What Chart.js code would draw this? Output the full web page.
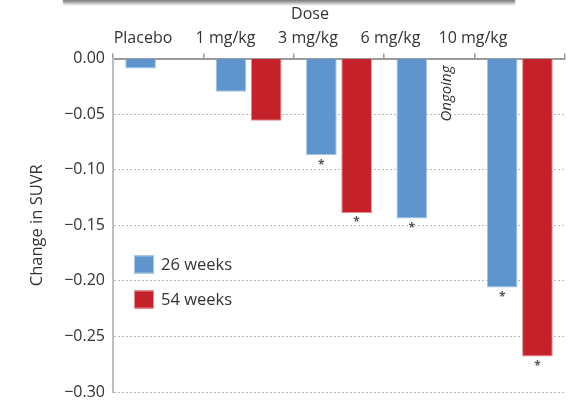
<!DOCTYPE html>
<html>
<head>
<meta charset="utf-8">
<script src="https://cdn.jsdelivr.net/npm/chart.js@4/dist/chart.umd.min.js"></script>
<style>
  html, body { margin: 0; padding: 0; background: #fff; }
  #wrap { position: relative; width: 572px; height: 405px; overflow: hidden; }
  #topbar { position: absolute; left: 63px; top: 0; width: 452px; height: 3px;
    background: linear-gradient(#7a7a7a, #b8b8b8); box-shadow: 0 1px 3px rgba(0,0,0,0.35); }
  canvas { position: absolute; left: 0; top: 0; }
</style>
</head>
<body>
<div id="wrap">
  <canvas id="c" width="572" height="405"></canvas>
  <div id="topbar"></div>
</div>
<script>
// ---- data ----
const doses = ['Placebo', '1 mg/kg', '3 mg/kg', '6 mg/kg', '10 mg/kg'];
const weeks26 = [-0.009, -0.030, -0.087, -0.144, -0.206];
const weeks54 = [null, -0.056, -0.139, null, -0.268];
const sig26 = [false, false, true, true, true];
const sig54 = [false, false, true, false, true];
const yTicks = [0, -0.05, -0.10, -0.15, -0.20, -0.25, -0.30];
const seriesLabels = ['26 weeks', '54 weeks'];
const ongoingIndex = 3;

const FONT = '"Open Sans", "Noto Sans", sans-serif';
const TXT = '#333333';
const BLUE = '#5f95cd', BLUE_B = '#a8c6e6';
const RED = '#c5212a', RED_B = '#e48c90';

// label axis range (labels in the original sit slightly left of the bar groups)
const LABEL_MIN = -0.3636, LABEL_MAX = 5.115;

const overlay = {
  id: 'overlay',
  afterDatasetsDraw(chart) {
    const ctx = chart.ctx;
    const ca = chart.chartArea;
    const x2 = chart.scales.x2;
    ctx.save();
    ctx.fillStyle = TXT;
    ctx.font = '16px ' + FONT;
    ctx.textAlign = 'center';
    ctx.textBaseline = 'middle';
    ctx.fillText('Dose', x2.getPixelForValue(2) + 2, 14);

    ctx.font = 'bold 12px ' + FONT;
    ctx.fillStyle = '#555';
    const sigs = [sig26, sig54];
    chart.data.datasets.forEach((ds, di) => {
      const meta = chart.getDatasetMeta(di);
      meta.data.forEach((el, i) => {
        if (ds.data[i] == null || !sigs[di][i]) return;
        ctx.fillText('*', el.x, el.y + 10);
      });
    });

    const m0 = chart.getDatasetMeta(0), m1 = chart.getDatasetMeta(1);
    const shift = m1.data[2].x - m0.data[2].x;
    const ox = m0.data[ongoingIndex].x + shift;
    ctx.translate(ox, ca.top + 35);
    ctx.rotate(-Math.PI / 2);
    ctx.font = 'italic 15px ' + FONT;
    ctx.fillStyle = TXT;
    ctx.fillText('Ongoing', 0, 0);
    ctx.restore();

    ctx.save();
    ctx.font = '16.5px ' + FONT;
    ctx.textAlign = 'left';
    ctx.textBaseline = 'middle';
    chart.data.datasets.forEach((ds, di) => {
      const bx = ca.left + 21, by = ca.top + 197 + di * 35;
      ctx.fillStyle = ds.backgroundColor;
      ctx.fillRect(bx, by, 20, 18);
      ctx.strokeStyle = ds.borderColor;
      ctx.lineWidth = 1;
      ctx.strokeRect(bx + 0.5, by + 0.5, 19, 17);
      ctx.fillStyle = TXT;
      ctx.fillText(ds.label, bx + 27, by + 10);
    });
    ctx.restore();
  }
};

new Chart(document.getElementById('c'), {
  type: 'bar',
  data: {
    labels: doses,
    datasets: [
      { label: seriesLabels[0], data: weeks26, backgroundColor: BLUE, borderColor: BLUE_B, borderWidth: 1 },
      { label: seriesLabels[1], data: weeks54, backgroundColor: RED, borderColor: RED_B, borderWidth: 1 }
    ]
  },
  options: {
    responsive: false,
    animation: false,
    devicePixelRatio: 1,
    categoryPercentage: 0.78,
    barPercentage: 0.87,
    layout: { padding: { left: 0, right: 7, top: 0, bottom: 13 } },
    plugins: { legend: { display: false }, tooltip: { enabled: false } },
    scales: {
      x: {
        position: 'top',
        weight: 0,
        afterFit(s) { s.height = 6; s.paddingLeft = 0; s.paddingRight = 0; },
        ticks: { display: false },
        grid: { drawOnChartArea: false, drawTicks: true, tickLength: 5, color: '#9a9a9a', lineWidth: 1.5, offset: true },
        border: { display: true, color: '#9a9a9a', width: 2 }
      },
      x2: {
        type: 'linear',
        position: 'top',
        weight: 1,
        offset: false,
        bounds: 'data',
        min: LABEL_MIN,
        max: LABEL_MAX,
        afterFit(s) { s.height = 52.5; s.paddingLeft = 0; s.paddingRight = 0; },
        afterBuildTicks(s) {
          s.ticks = doses.map((_, i) => ({ value: i }));
          s.min = LABEL_MIN; s.max = LABEL_MAX;
        },
        ticks: {
          autoSkip: false, maxRotation: 0, padding: 4,
          color: TXT, font: { family: FONT, size: 16 },
          callback: (v) => doses[v]
        },
        grid: { display: false, drawTicks: false, offset: false },
        border: { display: false }
      },
      y: {
        min: -0.30,
        max: 0,
        afterFit(s) { s.width = 113; s.paddingTop = 0; s.paddingBottom = 0; },
        afterBuildTicks(s) { s.ticks = yTicks.map(v => ({ value: v })); },
        ticks: {
          padding: 8, color: TXT, font: { family: FONT, size: 16 },
          callback: (v) => (v < 0 ? '\u2212' : '') + Math.abs(v).toFixed(2)
        },
        grid: { color: '#b8b8b8', lineWidth: 1, drawTicks: false, borderDash: [2, 2] },
        border: { display: true, color: '#bdbdbd', width: 2, dash: [2, 2] },
        title: {
          display: true, text: 'Change in SUVR', color: TXT,
          font: { family: FONT, size: 16.5 }, padding: { top: 27, bottom: 0 }
        }
      }
    }
  },
  plugins: [overlay]
});
</script>
</body>
</html>
